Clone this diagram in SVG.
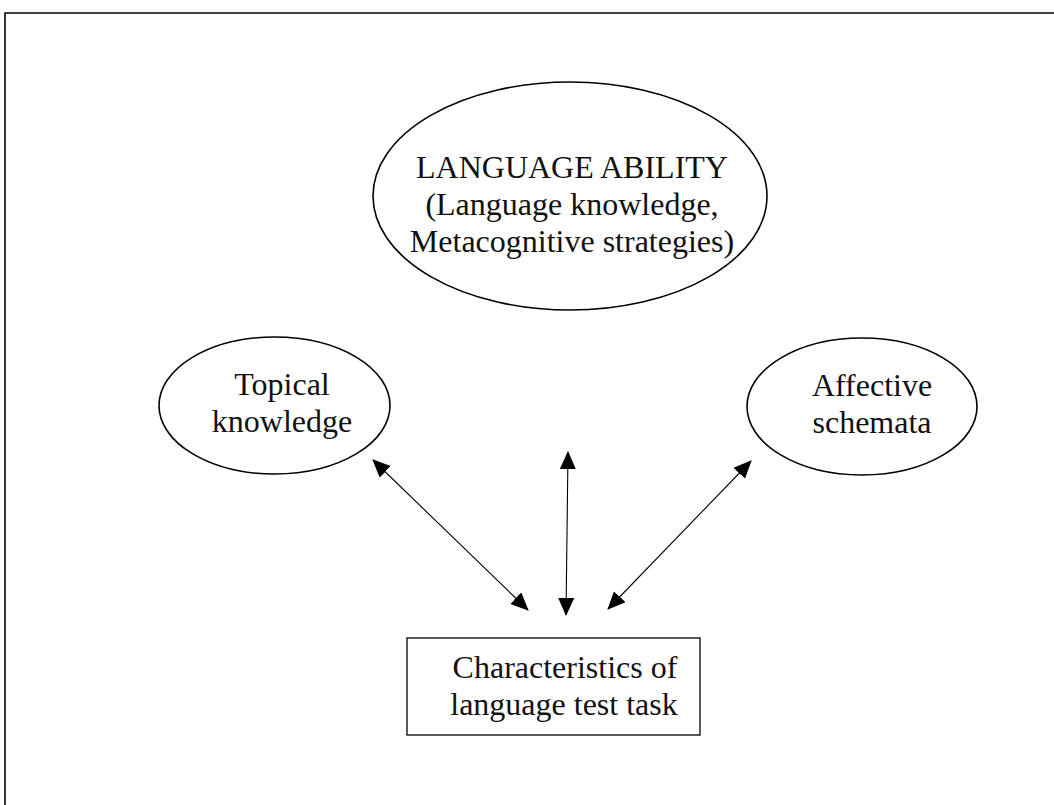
<svg xmlns="http://www.w3.org/2000/svg" width="1054" height="805" viewBox="0 0 1054 805">
<style>
.node{fill:#fff;stroke:#000;stroke-width:1.6}
.box{fill:#fff;stroke:#000;stroke-width:1.3}
text{font-family:"Liberation Serif","Times New Roman",serif;font-size:32px;fill:#111;text-anchor:middle}
.conn line{stroke:#000;stroke-width:1.1}
</style>
<defs>
<marker id="ah" markerUnits="userSpaceOnUse" markerWidth="18" markerHeight="16" refX="17" refY="8" orient="auto-start-reverse">
<path d="M0,0 L18,8 L0,16 z" fill="#000"/>
</marker>
</defs>
<rect width="1054" height="805" fill="#fff"/>
<path d="M5,805 V13 H1054" fill="none" stroke="#000" stroke-width="1.6"/>
<g id="language-ability">
<ellipse class="node" cx="570" cy="196" rx="197" ry="114"/>
<text x="572" y="178">LANGUAGE ABILITY</text>
<text x="572" y="215">(Language knowledge,</text>
<text x="572" y="252">Metacognitive strategies)</text>
</g>
<g id="topical-knowledge">
<ellipse class="node" cx="274.5" cy="405.5" rx="115.5" ry="68.5"/>
<text x="282" y="395">Topical</text>
<text x="282" y="432">knowledge</text>
</g>
<g id="affective-schemata">
<ellipse class="node" cx="862" cy="406.5" rx="115" ry="68.5"/>
<text x="872" y="396">Affective</text>
<text x="872" y="433">schemata</text>
</g>
<g id="task-characteristics">
<rect class="box" x="407" y="638" width="293" height="97"/>
<text x="565" y="678">Characteristics of</text>
<text x="564" y="715">language test task</text>
</g>
<g class="conn" id="connectors">
<line x1="373" y1="460" x2="528" y2="610" marker-start="url(#ah)" marker-end="url(#ah)"/>
<line x1="568" y1="452" x2="566" y2="615" marker-start="url(#ah)" marker-end="url(#ah)"/>
<line x1="751" y1="461" x2="608" y2="609" marker-start="url(#ah)" marker-end="url(#ah)"/>
</g>
</svg>
